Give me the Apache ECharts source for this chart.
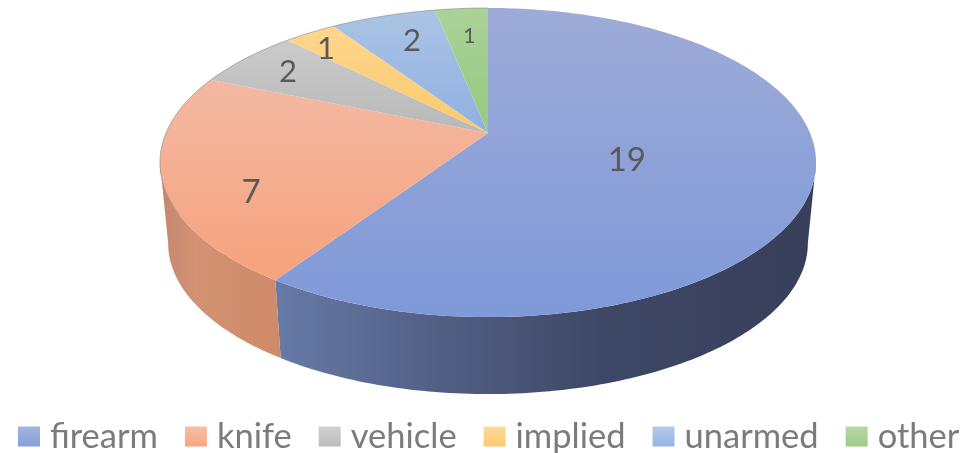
<!DOCTYPE html>
<html><head><meta charset="utf-8">
<style>html,body{margin:0;padding:0;background:#fff}#c{width:967px;height:453px}</style>
<script src="https://cdn.jsdelivr.net/npm/echarts@6/dist/echarts.min.js"></script>
</head><body><div id="c"></div>
<script>
const categories = ['firearm','knife','vehicle','implied','unarmed','other'];
const values = [19,7,2,1,2,1];
const labelSizes = [33,33,31,31,31,21];
const labelAlong = [0.528,0.355,0.485,0.29,0.57,0.55];
const labelRadius = [0.452,0.777,0.807,0.847,0.75,0.747];
const topColors = [['#9eabd7','#7f99d9'],['#f3b9a3','#f6a27c'],['#cbcbcb','#b8b8b8'],['#fdd68e','#fbc96a'],['#abc4e4','#8fb0e2'],['#aad298','#96c97e']];
const legendColors = [['#a5b5dd','#84a0d8'],['#f6bfa5','#f8a680'],['#d0d0d0','#bdbdbd'],['#fdd99a','#fccb70'],['#b2cbea','#94b5e4'],['#b9d7a8','#9ecb85']];
const sideColors = [[[0,'#667aa6'],[0.35,'#4f5b80'],[0.6,'#3e4766'],[1,'#383f5a']],[[0,'#c48870'],[0.3,'#d29273'],[1,'#cf8a68']]];
const geo = {cx:488, cy:133, A:322, B:148.9, k:0.191, depth:81.6, s:0.975};

function project(deg, r, lower){
  const t = deg*Math.PI/180, u = Math.sin(t)*r, v = Math.cos(t)*r, w = 1+geo.k*v;
  const s = lower ? geo.s : 1;
  return [geo.cx + geo.A*s*u/w, geo.cy + (lower?geo.depth:0) - geo.B*s*v/w];
}
function arc(a,b,lower){
  const pts=[], n=Math.max(2,Math.ceil(Math.abs(b-a)));
  for(let i=0;i<=n;i++) pts.push(project(a+(b-a)*i/n,1,lower));
  return pts;
}
const total = values.reduce((a,b)=>a+b,0);
const SIL_R = 101, SIL_L = 259;
let acc = 0;
const series = categories.map((name,i)=>{
  const start = acc/total*360; acc += values[i]; const end = acc/total*360;
  return {
    type:'custom', name, coordinateSystem:'none', silent:true, animation:false,
    itemStyle:{color:new echarts.graphic.LinearGradient(0,0,0,1,[{offset:0,color:legendColors[i][0]},{offset:1,color:legendColors[i][1]}])},
    data:[[start,end,values[i]]],
    renderItem(params,api){
      const a=api.value(0), b=api.value(1), val=api.value(2), children=[];
      const sa=Math.max(a,SIL_R), sb=Math.min(b,SIL_L);
      if(sb>sa && sideColors[i]){
        const pTop=arc(sa,sb,false), pLow=arc(sa,sb,true).reverse();
        const xs=pTop.concat(pLow).map(p=>p[0]);
        const x0=Math.min(...xs), x1=Math.max(...xs);
        const stops=sideColors[i].map(c=>({offset:c[0],color:c[1]}));
        children.push({type:'polygon',z2:1,shape:{points:pTop.concat(pLow)},
          style:{fill:new echarts.graphic.LinearGradient(x0,0,x1,0,stops,true)}});
      }
      const rim=arc(a,b,false);
      const ys=rim.map(p=>p[1]).concat([geo.cy]);
      const y0=Math.min(...ys), y1=Math.max(...ys);
      children.push({type:'polygon',z2:2,shape:{points:[[geo.cx,geo.cy]].concat(rim)},
        style:{fill:new echarts.graphic.LinearGradient(0,y0,0,y1,[{offset:0,color:topColors[i][0]},{offset:1,color:topColors[i][1]}],true)}});
      if(b>SIL_L){
        children.push({type:'polyline',z2:3,shape:{points:arc(Math.max(a,240),b,false)},
          style:{fill:null,stroke:'rgba(120,120,120,0.5)',lineWidth:1}});
      }
      const lp=project(a+(b-a)*labelAlong[i],labelRadius[i],false);
      children.push({type:'text',z2:5,x:lp[0],y:lp[1],
        style:{text:String(val),fill:'#595959',font:labelSizes[i]+'px Lato',align:'center',verticalAlign:'middle'}});
      return {type:'group',children};
    }
  };
});
const chart = echarts.init(document.getElementById('c'),null,{renderer:'canvas'});
chart.setOption({
  animation:false, backgroundColor:'#fff',
  legend:{show:true,data:categories,left:18,top:419,width:949,selectedMode:false,orient:'horizontal',
    itemWidth:22,itemHeight:20,itemGap:27,icon:'rect',padding:0,
    textStyle:{color:'#7b7b7b',fontFamily:'Lato',fontSize:34.5,padding:[0,0,4,5]}},
  series
});
</script></body></html>
